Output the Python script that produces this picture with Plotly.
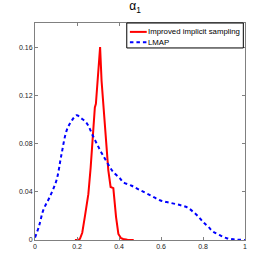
import plotly.graph_objects as go

# Improved implicit sampling (red)
iis_x = [0.19, 0.205, 0.214, 0.225, 0.238, 0.254, 0.265, 0.278, 0.285, 0.29, 0.30, 0.31, 0.317, 0.333, 0.349, 0.36, 0.373, 0.386, 0.397, 0.41, 0.42, 0.44, 0.47]
iis_y = [0.0, 0.0, 0.001, 0.006, 0.02, 0.038, 0.06, 0.091, 0.110, 0.113, 0.138, 0.160, 0.132, 0.091, 0.058, 0.044, 0.043, 0.019, 0.005, 0.0015, 0.0008, 0.0002, 0.0]

# LMAP (blue dashed)
lmap_x = [0.0, 0.02, 0.04, 0.071, 0.103, 0.125, 0.151, 0.175, 0.198, 0.22, 0.246, 0.278, 0.31, 0.341, 0.37, 0.405, 0.42, 0.46, 0.5, 0.55, 0.595, 0.64, 0.69, 0.725, 0.753, 0.78, 0.8, 0.825, 0.848, 0.88, 0.913, 0.95, 1.0]
lmap_y = [0.002, 0.012, 0.025, 0.036, 0.05, 0.07, 0.091, 0.099, 0.1035, 0.101, 0.097, 0.0856, 0.0745, 0.065, 0.057, 0.051, 0.048, 0.045, 0.0414, 0.037, 0.033, 0.031, 0.029, 0.027, 0.0234, 0.019, 0.015, 0.011, 0.007, 0.004, 0.0015, 0.0005, 0.0]

x_ticks = [0, 0.2, 0.4, 0.6, 0.8, 1]
x_labels = ["0", "0.2", "0.4", "0.6", "0.8", "1"]
y_ticks = [0, 0.04, 0.08, 0.12, 0.16]
y_labels = ["0", "0.04", "0.08", "0.12", "0.16"]

series_names = ["Improved implicit sampling", "LMAP"]
series_colors = ["#ff0000", "#0000ff"]
series_dash = ["solid", "3.5px,3px"]

fig = go.Figure()
fig.add_trace(go.Scatter(x=iis_x, y=iis_y, mode="lines", name=series_names[0],
                         line=dict(color=series_colors[0], width=2), showlegend=False))
fig.add_trace(go.Scatter(x=lmap_x, y=lmap_y, mode="lines", name=series_names[1],
                         line=dict(color=series_colors[1], width=2, dash=series_dash[1], shape="spline"),
                         showlegend=False))

axis_common = dict(showgrid=False, zeroline=False, showline=True, linecolor="#808080", linewidth=1,
                   mirror="ticks", ticks="inside", ticklen=3, tickcolor="#808080", automargin=False,
                   tickfont=dict(family="Liberation Sans, Arial", size=7, color="#222222"))
fig.update_xaxes(range=[0, 1], tickvals=x_ticks, ticktext=x_labels, **axis_common)
fig.update_yaxes(range=[0, 0.18], tickvals=y_ticks, ticktext=y_labels, **axis_common)

# Manual legend (MATLAB-style compact box)
fig.add_shape(type="rect", xref="paper", yref="paper", x0=0.437, x1=0.992, y0=0.885, y1=1.0,
              line=dict(color="#000000", width=1), fillcolor="white", layer="above")
legend_y = [0.959, 0.911]
for name, col, dash, ly in zip(series_names, series_colors, series_dash, legend_y):
    fig.add_shape(type="line", xref="paper", yref="paper", x0=0.452, x1=0.532, y0=ly, y1=ly,
                  line=dict(color=col, width=2, dash=dash), layer="above")
    fig.add_annotation(x=0.537, y=ly, xref="paper", yref="paper", text=name, showarrow=False,
                       xanchor="left", yanchor="middle", xshift=-2,
                       font=dict(family="Liberation Sans, Arial", size=7.8, color="#000000"))

fig.update_layout(
    width=270, height=270,
    margin=dict(l=35, r=25, t=23, b=30),
    plot_bgcolor="white", paper_bgcolor="white",
    title=dict(text="α<sub>1</sub>", x=0.5, xanchor="center", y=0.977, yanchor="middle",
               font=dict(family="Liberation Sans, Arial", size=12, color="#000000")),
    showlegend=False,
)

fig.write_html("out.html", config={"displayModeBar": False},
               post_script="document.body.style.margin='0';")
